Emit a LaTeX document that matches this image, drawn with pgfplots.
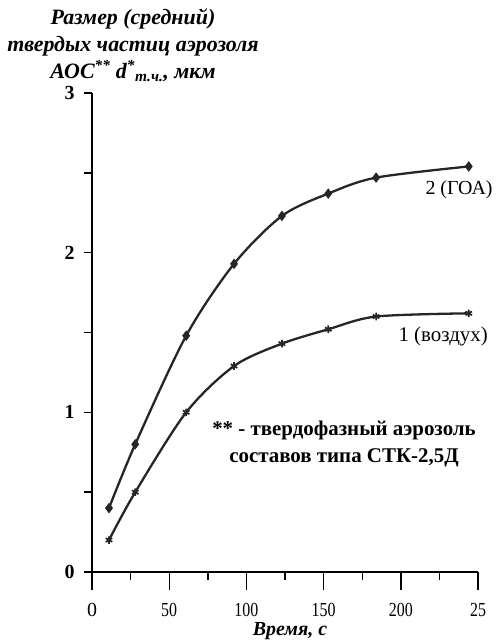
\documentclass[border=0pt]{standalone}
\usepackage{fontspec}
\setmainfont{Liberation Serif}
\usepackage{pgfplots}
\pgfplotsset{compat=1.18}
\pgfplotstableread{
x y
11 0.40
28 0.80
61 1.48
92 1.93
123 2.23
153 2.37
184 2.47
244 2.54
}\goa
\pgfplotstableread{
x y
11 0.20
28 0.50
61 1.00
92 1.29
123 1.43
153 1.52
184 1.60
244 1.62
}\air
\newcommand{\cx}[1]{\scalebox{0.8}[1]{#1}}
\begin{document}
\begin{tikzpicture}[x=1bp,y=1bp]
\useasboundingbox (0,0) rectangle (496,642);
\begin{axis}[
  at={(92bp,70bp)}, anchor=south west,
  scale only axis, width=386bp, height=479bp,
  xmin=0, xmax=250, ymin=0, ymax=3,
  axis x line*=bottom, axis y line*=left,
  axis line style={line width=1.6bp, black},
  tick style={line width=1.4bp, black},
  tick align=outside,
  xtick={0,50,...,250}, xticklabels={0,\cx{50},\cx{100},\cx{150},\cx{200},\cx{25}},
  minor xtick={25,75,...,225},
  ytick={0,1,2,3}, minor ytick={0,0.5,...,3},
  major tick length=18bp, minor tick length=8bp,
  major y tick style={draw=none},
  clip=false,
  /pgf/number format/assume math mode=true,
  xticklabel style={font=\fontsize{20}{20}\selectfont, yshift=-10bp},
  yticklabel style={font=\bfseries\fontsize{20}{20}\selectfont, xshift=4bp},
]
\addplot[line width=2.3bp, black!85, smooth, mark=diamond*, mark size=3.4bp, mark options={solid}] table {\goa};
\addplot[line width=2.3bp, black!85, smooth, mark=asterisk, mark size=3.8bp, mark options={solid, line width=1.7bp}] table {\air};
\end{axis}
\node[font=\bfseries\itshape\fontsize{20}{20}\selectfont] at (290,11) {Время, с};
\node[font=\bfseries\itshape\fontsize{22}{27}\selectfont, align=center] at (133,597)
  {Размер (средний)\\твердых частиц аэрозоля\\АОС\textsuperscript{**} \textit{d}\textsuperscript{*}\textsubscript{т.ч.}, мкм};
\node[font=\bfseries\fontsize{21}{28}\selectfont, align=center] at (344,198)
  {** - твердофазный аэрозоль\\составов типа СТК-2,5Д};
\node[font=\fontsize{20}{20}\selectfont, anchor=west] at (422,452) {2 (ГОА)};
\node[font=\fontsize{21}{21}\selectfont, anchor=west] at (395,305) {1 (воздух)};
\end{tikzpicture}
\end{document}
